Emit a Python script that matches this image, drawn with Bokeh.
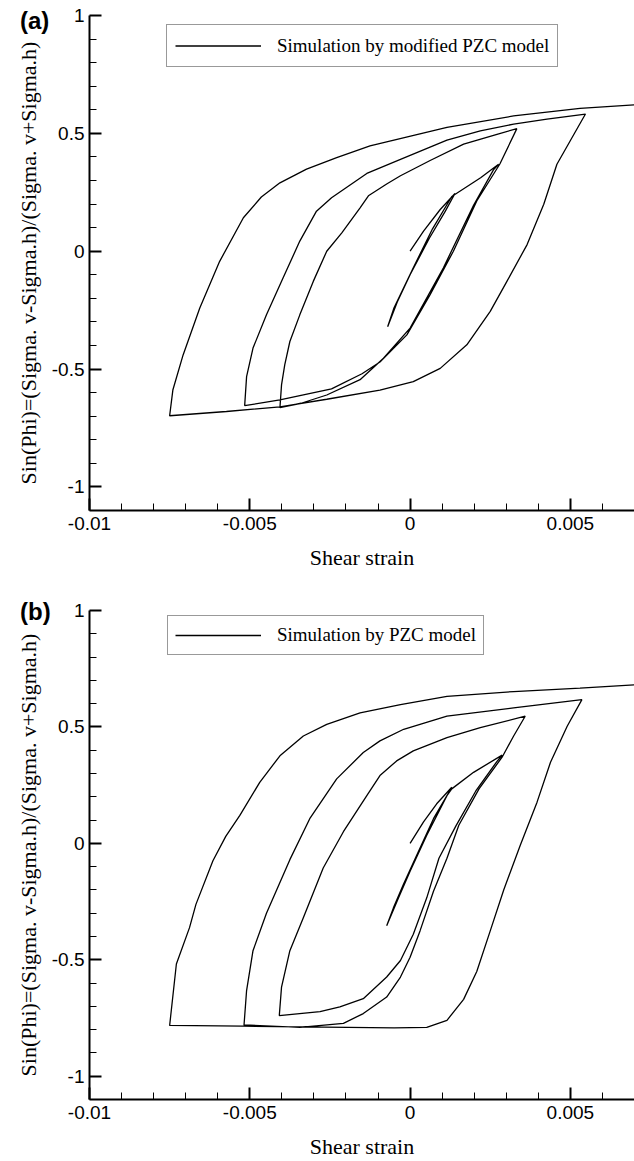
from bokeh.plotting import figure
from bokeh.models import FixedTicker, Legend, LegendItem, Range1d, Div
from bokeh.layouts import column
from bokeh.embed import file_html
from bokeh.resources import INLINE

# ---------------- data ----------------
strain_a = [
    0.0, 0.00042, 0.00094, 0.0014,
    0.0011, 0.0006, 0.0, -0.0004, -0.0007,
    -0.0005, 0.0001, 0.0007, 0.0013, 0.0022, 0.00276,
    0.0026, 0.00198, 0.00104, 0.0, -0.00083, -0.00156, -0.0026, -0.0034, -0.00406,
    -0.00401, -0.00391, -0.00375, -0.00344, -0.00302, -0.0026, -0.00213, -0.00156, -0.0013,
    -0.00073, -0.0003, 0.000625, 0.00167, 0.00271, 0.00333,
    0.0028, 0.00208, 0.00135, 0.000625, -0.0001, -0.00094, -0.0015, -0.00245, -0.00406, -0.00516,
    -0.0051, -0.0049, -0.00448, -0.00396, -0.00344, -0.00292, -0.00245, -0.00135, -0.0003,
    0.00115, 0.00219, 0.00323, 0.00427, 0.00547,
    0.00458, 0.00417, 0.00365, 0.00302, 0.0025, 0.00177, 0.00094, 0.0001, -0.00094, -0.0026,
    -0.00406, -0.00573, -0.0075,
    -0.0074, -0.00708, -0.00656, -0.00594, -0.0052, -0.00464, -0.00406, -0.00323, -0.00229,
    -0.00125, 0.00115, 0.00323, 0.0053, 0.007,
]
stress_a = [
    0.0, 0.085, 0.177, 0.245,
    0.17, 0.055, -0.10, -0.215, -0.32,
    -0.24, -0.07, 0.095, 0.232, 0.312, 0.369,
    0.345, 0.195, -0.07, -0.326, -0.454, -0.545, -0.61, -0.645, -0.664,
    -0.567, -0.482, -0.383, -0.27, -0.128, 0.0, 0.078, 0.184, 0.235,
    0.285, 0.32, 0.385, 0.454, 0.496, 0.52,
    0.37, 0.213, 0.0, -0.184, -0.355, -0.47, -0.52, -0.584, -0.631, -0.655,
    -0.532, -0.411, -0.27, -0.113, 0.043, 0.17, 0.227, 0.33, 0.39,
    0.471, 0.511, 0.539, 0.56, 0.582,
    0.369, 0.199, 0.028, -0.128, -0.255, -0.397, -0.497, -0.553, -0.589, -0.628,
    -0.66, -0.68, -0.698,
    -0.589, -0.44, -0.241, -0.043, 0.142, 0.23, 0.29, 0.348, 0.397,
    0.447, 0.525, 0.574, 0.606, 0.621,
]

strain_b = [
    0.0, 0.00042, 0.00083, 0.0013,
    0.00073, 0.00021, -0.00021, -0.00052, -0.00073,
    -0.00036, 0.0, 0.00052, 0.00115, 0.0013, 0.00198, 0.00287,
    0.0027, 0.00205, 0.00143, 0.0009, 0.00052, 0.0001, -0.0003, -0.00073, -0.00146, -0.00219,
    -0.00281, -0.00408,
    -0.00401, -0.00375, -0.00333, -0.00271, -0.00208, -0.00135, -0.00094, -0.00042, 0.0001,
    0.00115, 0.00219, 0.00359,
    0.00323, 0.00287, 0.00215, 0.00152, 0.00115, 0.00073, 0.00031, 0.0, -0.0003, -0.00073,
    -0.00146, -0.00208, -0.00344, -0.00518,
    -0.0051, -0.0049, -0.00448, -0.00375, -0.00313, -0.00229, -0.00146, -0.00094, -0.0002,
    0.00115, 0.00323, 0.00536,
    0.0049, 0.00438, 0.00396, 0.00344, 0.00292, 0.0025, 0.00208, 0.00167, 0.00115, 0.00052,
    -0.0005, -0.0034, -0.0052, -0.0075,
    -0.00729, -0.00688, -0.00668, -0.00615, -0.00575, -0.00531, -0.00469, -0.00406, -0.00333,
    -0.0026, -0.00156, -0.0003, 0.00115, 0.00323, 0.0053, 0.007,
]
stress_b = [
    0.0, 0.092, 0.17, 0.241,
    0.106, -0.05, -0.177, -0.277, -0.354,
    -0.234, -0.12, 0.035, 0.205, 0.234, 0.305, 0.379,
    0.35, 0.225, 0.075, -0.064, -0.234, -0.39, -0.503, -0.574, -0.667, -0.702,
    -0.723, -0.74,
    -0.617, -0.461, -0.319, -0.106, 0.05, 0.205, 0.291, 0.354, 0.397,
    0.454, 0.497, 0.546,
    0.461, 0.37, 0.234, 0.078, -0.064, -0.206, -0.376, -0.489, -0.574, -0.66,
    -0.731, -0.773, -0.79, -0.78,
    -0.632, -0.461, -0.3, -0.07, 0.106, 0.277, 0.39, 0.44, 0.49,
    0.546, 0.582, 0.617,
    0.503, 0.348, 0.177, -0.007, -0.2, -0.376, -0.55, -0.67, -0.76, -0.79,
    -0.792, -0.788, -0.785, -0.782,
    -0.518, -0.362, -0.262, -0.075, 0.03, 0.12, 0.262, 0.376, 0.461,
    0.511, 0.56, 0.596, 0.631, 0.652, 0.667, 0.681,
]

x_ticks = [-0.01, -0.005, 0.0, 0.005]
x_tick_labels = ["-0.01", "-0.005", "0", "0.005"]
x_minor = [-0.009, -0.008, -0.007, -0.006, -0.004, -0.003, -0.002, -0.001,
           0.001, 0.002, 0.003, 0.004, 0.006]
y_ticks = [-1.0, -0.5, 0.0, 0.5, 1.0]
y_tick_labels = ["-1", "-0.5", "0", "0.5", "1"]
y_minor = [-0.9, -0.8, -0.7, -0.6, -0.4, -0.3, -0.2, -0.1,
           0.1, 0.2, 0.3, 0.4, 0.6, 0.7, 0.8, 0.9]

x_title = "Shear strain"
y_title = "Sin(Phi)=(Sigma. v-Sigma.h)/(Sigma. v+Sigma.h)"
legend_a = "Simulation by modified PZC model"
legend_b = "Simulation by PZC model"
tag_a = "(a)"
tag_b = "(b)"

SANS = "Liberation Sans"
SERIF = "Liberation Serif"


def make_panel(strain, stress, legend_text, height, b_top, b_bottom,
               legend_xy, legend_pad, legend_h):
    p = figure(width=634, height=height,
               x_range=Range1d(-0.01, 0.007), y_range=Range1d(-1.1, 1.0),
               output_backend="svg", toolbar_location=None,
               min_border_left=89, min_border_right=0,
               min_border_top=b_top, min_border_bottom=b_bottom)
    p.outline_line_color = None
    p.grid.visible = False
    p.background_fill_color = "white"
    p.border_fill_color = "white"

    r = p.line(strain, stress, line_color="black", line_width=1.3)

    p.xaxis.ticker = FixedTicker(ticks=x_ticks, minor_ticks=x_minor)
    p.yaxis.ticker = FixedTicker(ticks=y_ticks, minor_ticks=y_minor)
    p.xaxis.major_label_overrides = {v: s for v, s in zip(x_ticks, x_tick_labels)}
    p.yaxis.major_label_overrides = {v: s for v, s in zip(y_ticks, y_tick_labels)}

    for ax in (p.xaxis[0], p.yaxis[0]):
        ax.axis_line_width = 2
        ax.axis_line_color = "black"
        ax.major_tick_in = 12
        ax.major_tick_out = 0
        ax.minor_tick_in = 7
        ax.minor_tick_out = 0
        ax.major_tick_line_width = 2
        ax.minor_tick_line_width = 1
        ax.major_tick_line_color = "black"
        ax.minor_tick_line_color = "black"
        ax.major_label_text_font = SANS
        ax.major_label_text_font_size = "19px"
        ax.major_label_text_color = "black"
        ax.axis_label_text_font = SERIF
        ax.axis_label_text_font_size = "22px"
        ax.axis_label_text_font_style = "normal"
        ax.axis_label_text_color = "black"

    p.xaxis.axis_label = x_title
    p.yaxis.axis_label = y_title
    p.xaxis.major_label_standoff = 6
    p.xaxis.axis_label_standoff = 12
    p.yaxis.major_label_standoff = 5
    p.yaxis.axis_label_standoff = 8

    legend = Legend(items=[LegendItem(label=legend_text, renderers=[r])],
                    location=legend_xy)
    legend.padding = legend_pad
    legend.margin = 0
    legend.spacing = 0
    legend.glyph_width = 86
    legend.glyph_height = legend_h
    legend.label_height = legend_h
    legend.label_standoff = 16
    legend.label_text_font = SERIF
    legend.label_text_font_size = "19px"
    legend.label_text_color = "black"
    legend.border_line_color = "#333333"
    legend.border_line_width = 1
    legend.background_fill_color = "white"
    legend.background_fill_alpha = 1.0
    p.add_layout(legend)
    return p


def make_tag(text, top):
    return Div(text=text, width=40, height=28,
               styles={"position": "absolute", "left": "20px", "top": f"{top}px",
                       "z-index": "10", "font-family": SANS, "font-weight": "bold",
                       "font-size": "24px", "line-height": "1", "color": "black",
                       "margin": "0", "padding": "0"})


pa = make_panel(strain_a, stress_a, legend_a, height=580, b_top=15, b_bottom=70,
                legend_xy=(77, 443), legend_pad=8, legend_h=25)
pb = make_panel(strain_b, stress_b, legend_b, height=581, b_top=30, b_bottom=58,
                legend_xy=(78, 444), legend_pad=7, legend_h=24)

layout = column(pa, pb, make_tag(tag_a, 9), make_tag(tag_b, 600))
open("out.html", "w").write(file_html(layout, INLINE))
